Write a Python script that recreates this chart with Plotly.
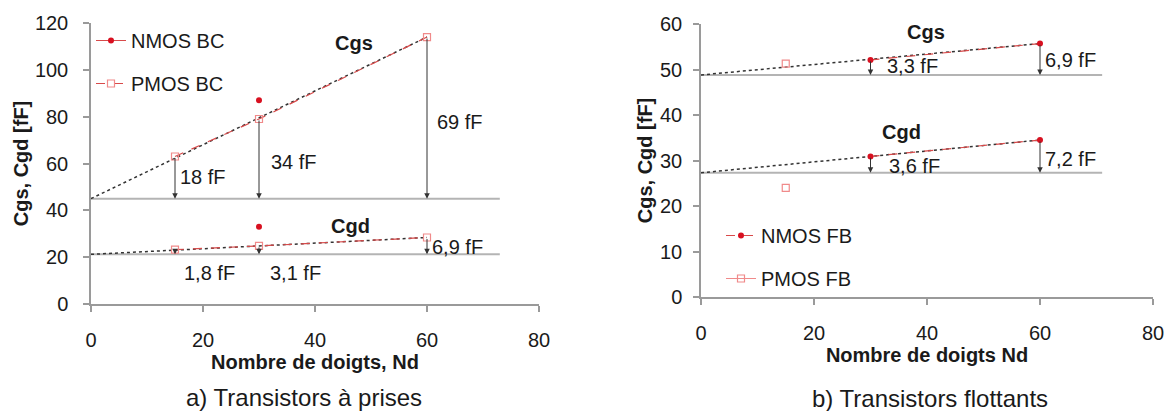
import plotly.graph_objects as go

# ---------------- data ----------------
# a) Transistors à prises (BC)
nd_bc = [15, 30, 60]
pmos_bc_cgs = [63, 79, 114]
pmos_bc_cgd = [23.2, 24.8, 28.4]
nmos_bc_nd = [30]
nmos_bc_cgs = [87]
nmos_bc_cgd = [33]
bc_cgs_base = 45
bc_cgd_base = 21.2
bc_trend_nd = [0, 60]
bc_trend_cgs = [45, 114]
bc_trend_cgd = [21.2, 28.4]
bc_cgs_labels = ["18 fF", "34 fF", "69 fF"]
bc_cgd_labels = ["1,8 fF", "3,1 fF", "6,9 fF"]

# b) Transistors flottants (FB)
nd_fb = [30, 60]
nmos_fb_cgs = [52.1, 55.7]
nmos_fb_cgd = [30.9, 34.5]
pmos_fb_nd = [15]
pmos_fb_cgs = [51.3]
pmos_fb_cgd = [24.0]
fb_cgs_base = 48.8
fb_cgd_base = 27.3
fb_trend_nd = [0, 60]
fb_trend_cgs = [48.8, 55.7]
fb_trend_cgd = [27.3, 34.5]
fb_cgs_labels = ["3,3 fF", "6,9 fF"]
fb_cgd_labels = ["3,6 fF", "7,2 fF"]

x_ticks = [0, 20, 40, 60, 80]
y_ticks_bc = [0, 20, 40, 60, 80, 100, 120]
y_ticks_fb = [0, 10, 20, 30, 40, 50, 60]

# ---------------- styles ----------------
FONT = "Liberation Sans, Arial, sans-serif"
TXT = "#1a1a1a"
AX = "#9a9a9a"
RED = "#d81020"
PINK = "#f08a8a"
DASHRED = "#d84a4a"
BASE = "#b4b4b4"
W, H = 1167, 411

fig = go.Figure()

def trend(x, y, xa, ya):
    fig.add_trace(go.Scatter(x=x, y=y, mode="lines", xaxis=xa, yaxis=ya,
                             line=dict(color="#333333", width=1.5, dash="dot"),
                             showlegend=False, hoverinfo="skip"))

def baseline(xmax, yv, xa, ya):
    fig.add_trace(go.Scatter(x=[0, xmax], y=[yv, yv], mode="lines", xaxis=xa, yaxis=ya,
                             line=dict(color=BASE, width=2),
                             showlegend=False, hoverinfo="skip"))

# left chart
baseline(73, bc_cgs_base, "x", "y")
baseline(73, bc_cgd_base, "x", "y")
trend(bc_trend_nd, bc_trend_cgs, "x", "y")
trend(bc_trend_nd, bc_trend_cgd, "x", "y")

fig.add_trace(go.Scatter(x=nmos_bc_nd, y=nmos_bc_cgs, mode="lines+markers", name="NMOS BC",
                         xaxis="x", yaxis="y", legend="legend", legendgroup="a1",
                         line=dict(color=DASHRED, width=1),
                         marker=dict(color=RED, size=6, symbol="circle")))
fig.add_trace(go.Scatter(x=nmos_bc_nd, y=nmos_bc_cgd, mode="markers", name="NMOS BC",
                         xaxis="x", yaxis="y", showlegend=False,
                         marker=dict(color=RED, size=6, symbol="circle")))
fig.add_trace(go.Scatter(x=nd_bc, y=pmos_bc_cgs, mode="lines+markers", name="PMOS BC",
                         xaxis="x", yaxis="y", legend="legend", legendgroup="a2",
                         line=dict(color=DASHRED, width=1.2, dash="dash"),
                         marker=dict(color=PINK, size=7, symbol="square-open", line=dict(width=1.2))))
fig.add_trace(go.Scatter(x=nd_bc, y=pmos_bc_cgd, mode="lines+markers", name="PMOS BC",
                         xaxis="x", yaxis="y", showlegend=False,
                         line=dict(color=DASHRED, width=1.2, dash="dash"),
                         marker=dict(color=PINK, size=7, symbol="square-open", line=dict(width=1.2))))

# right chart
baseline(71, fb_cgs_base, "x2", "y2")
baseline(71, fb_cgd_base, "x2", "y2")
trend(fb_trend_nd, fb_trend_cgs, "x2", "y2")
trend(fb_trend_nd, fb_trend_cgd, "x2", "y2")

fig.add_trace(go.Scatter(x=nd_fb, y=nmos_fb_cgs, mode="lines+markers", name="NMOS FB",
                         xaxis="x2", yaxis="y2", legend="legend2", legendgroup="b1",
                         line=dict(color=DASHRED, width=1.2, dash="dash"),
                         marker=dict(color=RED, size=6, symbol="circle")))
fig.add_trace(go.Scatter(x=nd_fb, y=nmos_fb_cgd, mode="lines+markers", name="NMOS FB",
                         xaxis="x2", yaxis="y2", showlegend=False,
                         line=dict(color=DASHRED, width=1.2, dash="dash"),
                         marker=dict(color=RED, size=6, symbol="circle")))
fig.add_trace(go.Scatter(x=pmos_fb_nd, y=pmos_fb_cgs, mode="lines+markers", name="PMOS FB",
                         xaxis="x2", yaxis="y2", legend="legend2", legendgroup="b2",
                         line=dict(color=PINK, width=1),
                         marker=dict(color=PINK, size=7, symbol="square-open", line=dict(width=1.2))))
fig.add_trace(go.Scatter(x=pmos_fb_nd, y=pmos_fb_cgd, mode="markers", name="PMOS FB",
                         xaxis="x2", yaxis="y2", showlegend=False,
                         marker=dict(color=PINK, size=7, symbol="square-open", line=dict(width=1.2))))

ann = []

def arrows(xs, ys, base, xr, yr):
    for xv, yv in zip(xs, ys):
        ann.append(dict(x=xv, y=base, ax=xv, ay=yv, xref=xr, yref=yr, axref=xr, ayref=yr,
                        text="", showarrow=True, arrowhead=2, arrowsize=1.1, arrowwidth=1,
                        arrowcolor="#333333", standoff=0, startstandoff=0))

def label(txt, xv, yv, xr, yr, bold=False, anchor="left"):
    ann.append(dict(x=xv, y=yv, xref=xr, yref=yr, text=("<b>%s</b>" % txt) if bold else txt,
                    showarrow=False, xanchor=anchor, yanchor="middle",
                    font=dict(family=FONT, size=20, color=TXT)))

arrows(nd_bc, pmos_bc_cgs, bc_cgs_base, "x", "y")
arrows(nd_bc, pmos_bc_cgd, bc_cgd_base, "x", "y")
arrows(nd_fb, nmos_fb_cgs, fb_cgs_base, "x2", "y2")
arrows(nd_fb, nmos_fb_cgd, fb_cgd_base, "x2", "y2")

# left labels
for t, xv, yv in zip(bc_cgs_labels, [15.6, 31.8, 61.4], [54.4, 60.8, 77.9]):
    label(t, xv, yv, "x", "y")
for t, xv, yv in zip(bc_cgd_labels, [16.2, 31.6, 60.5], [13.1, 13.1, 24.2]):
    label(t, xv, yv, "x", "y")
label("Cgs", 46.9, 111.4, "x", "y", bold=True, anchor="center")
label("Cgd", 46.3, 33.3, "x", "y", bold=True, anchor="center")

# right labels
for t, xv, yv in zip(fb_cgs_labels, [32.6, 60.5], [50.8, 52.1]):
    label(t, xv, yv, "x2", "y2")
for t, xv, yv in zip(fb_cgd_labels, [32.9, 60.5], [28.7, 30.3]):
    label(t, xv, yv, "x2", "y2")
label("Cgs", 39.8, 58.3, "x2", "y2", bold=True, anchor="center")
label("Cgd", 35.5, 36.3, "x2", "y2", bold=True, anchor="center")

# subtitles
ann.append(dict(x=304 / W, y=1 - 397 / H, xref="paper", yref="paper", showarrow=False,
                text="a) Transistors à prises", xanchor="center", yanchor="middle",
                font=dict(family=FONT, size=24, color=TXT)))
ann.append(dict(x=930 / W, y=1 - 398 / H, xref="paper", yref="paper", showarrow=False,
                text="b) Transistors flottants", xanchor="center", yanchor="middle",
                font=dict(family=FONT, size=24, color=TXT)))

axis_common = dict(showline=True, linecolor=AX, linewidth=1.5, ticks="outside",
                   tickcolor=AX, ticklen=6, tickwidth=1.5, showgrid=False, zeroline=False,
                   tickfont=dict(family=FONT, size=20, color=TXT))

fig.update_layout(
    width=W, height=H, margin=dict(l=0, r=0, t=0, b=0, autoexpand=False),
    paper_bgcolor="white", plot_bgcolor="white",
    font=dict(family=FONT, size=20, color=TXT),
    xaxis=dict(domain=[91 / W, 539 / W], range=[0, 80], tickvals=x_ticks, anchor="y",
               ticklabelstandoff=11,
               title=dict(text="<b>Nombre de doigts, Nd</b>", standoff=5,
                          font=dict(family=FONT, size=20, color=TXT)), **axis_common),
    yaxis=dict(domain=[1 - 304 / H, 1 - 23 / H], range=[0, 120], tickvals=y_ticks_bc, anchor="x",
               ticklabelstandoff=11,
               title=dict(text="<b>Cgs, Cgd [fF]</b>", standoff=1,
                          font=dict(family=FONT, size=20, color=TXT)), **axis_common),
    xaxis2=dict(domain=[701 / W, 1153 / W], range=[0, 80], tickvals=x_ticks, anchor="y2",
                ticklabelstandoff=11,
                title=dict(text="<b>Nombre de doigts Nd</b>", standoff=2,
                           font=dict(family=FONT, size=20, color=TXT)), **axis_common),
    yaxis2=dict(domain=[1 - 297 / H, 1 - 24 / H], range=[0, 60], tickvals=y_ticks_fb, anchor="x2",
                ticklabelstandoff=7,
                title=dict(text="<b>Cgs, Cgd [fF]</b>", standoff=2,
                           font=dict(family=FONT, size=20, color=TXT)), **axis_common),
    legend=dict(x=91 / W, y=1 - 21 / H, xanchor="left", yanchor="top", bgcolor="rgba(0,0,0,0)",
                font=dict(family=FONT, size=20, color=TXT), tracegroupgap=14, itemwidth=30),
    legend2=dict(x=721 / W, y=1 - 216 / H, xanchor="left", yanchor="top", bgcolor="rgba(0,0,0,0)",
                 font=dict(family=FONT, size=20, color=TXT), tracegroupgap=14, itemwidth=30),
    annotations=ann,
)

fig.write_html("out.html", config={"displayModeBar": False},
               post_script="document.body.style.margin='0';document.body.style.overflow='hidden';")
